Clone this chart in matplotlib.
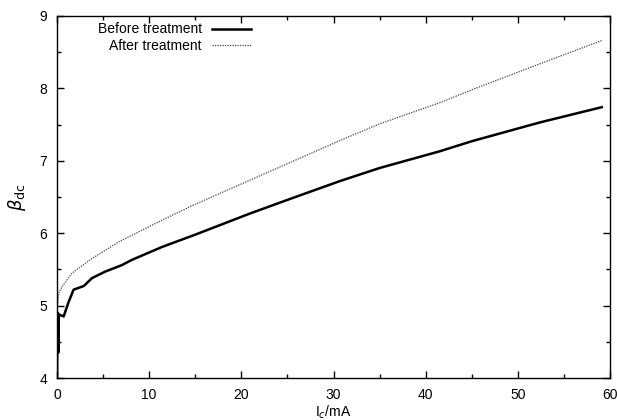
import matplotlib
matplotlib.use('Agg')
import matplotlib.pyplot as plt
from matplotlib.ticker import MultipleLocator

# current I_c (mA) and dc gain
before_ic = [0.0, 0.08, 0.14, 0.2, 0.36, 0.72, 1.26, 1.8, 2.9, 3.8, 5.24, 7.05, 8.1,
             11.4, 15, 20.9, 25, 30.7, 35, 41.5, 45, 52.4, 59.1]
before_beta = [4.0, 4.9, 4.35, 4.88, 4.87, 4.85, 5.05, 5.22, 5.27, 5.38, 5.47, 5.56, 5.63,
               5.81, 5.98, 6.27, 6.46, 6.72, 6.90, 7.13, 7.27, 7.53, 7.74]

after_ic = [0.0, 0.05, 0.18, 0.54, 1.63, 3.8, 6.7, 11.4, 15, 20.9, 25, 30.7, 35,
            41.5, 45, 52.4, 59.1]
after_beta = [4.76, 5.0, 5.17, 5.26, 5.45, 5.65, 5.88, 6.18, 6.40, 6.73, 6.96, 7.28, 7.51,
              7.80, 7.98, 8.34, 8.66]

plt.rcParams['font.family'] = ['Liberation Sans', 'DejaVu Sans']
plt.rcParams['font.size'] = 10

fig = plt.figure(figsize=(6.17, 4.2), dpi=100)
ax = fig.add_axes([0.0924, 0.1, 0.8963, 0.862])

ax.plot(before_ic, before_beta, color='black', lw=1.8, label='Before treatment')
ax.plot(after_ic, after_beta, color='#444444', lw=0.9, linestyle=(0, (1, 1)),
        label='After treatment')

ax.set_xlim(0, 60)
ax.set_ylim(4, 9)
ax.xaxis.set_major_locator(MultipleLocator(10))
ax.xaxis.set_minor_locator(MultipleLocator(5))
ax.yaxis.set_major_locator(MultipleLocator(1))
ax.yaxis.set_minor_locator(MultipleLocator(0.5))
ax.tick_params(which='both', direction='in', top=True, right=True, width=1)
ax.tick_params(which='major', length=5, pad=7)
ax.tick_params(which='minor', length=3)
for s in ax.spines.values():
    s.set_linewidth(1.0)

ax.set_xlabel(r'I$_c$/mA', labelpad=1)
ax.set_ylabel(r'$\beta_{\rm dc}$', fontsize=13, labelpad=8)

ax.legend(loc='upper right', bbox_to_anchor=(0.35, 0.982), frameon=False,
          markerfirst=False, borderpad=0, borderaxespad=0, handlelength=2.8,
          handletextpad=0.7, labelspacing=0.15)

fig.savefig('out.png', dpi=100)
